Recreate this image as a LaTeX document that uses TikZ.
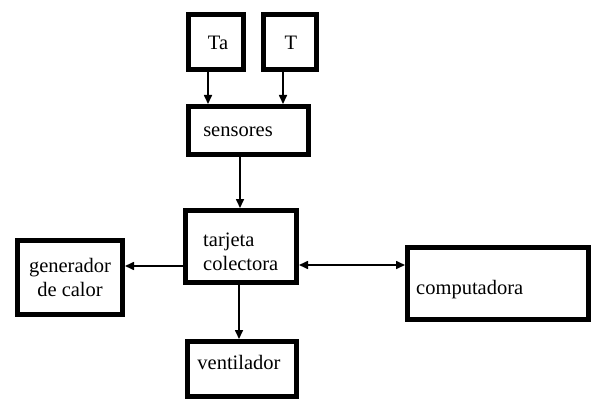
\documentclass[tikz,border=0pt]{standalone}
\usepackage{fontspec}
\setmainfont{Liberation Serif}
\usetikzlibrary{arrows.meta}
\begin{document}
\begin{tikzpicture}[x=1pt,y=-1pt,
  blk/.style={draw=black,line width=5pt,inner sep=0pt},
  lbl/.style={inner sep=0pt,font=\fontsize{20.5}{24}\selectfont,align=left},
  arr/.style={line width=1.6pt,-{Triangle[length=9pt,width=8pt]}},
  darr/.style={line width=1.6pt,{Triangle[length=9pt,width=8pt]}-{Triangle[length=9pt,width=8pt]}}]
\useasboundingbox (0,0) rectangle (593,401);
% boxes
\node[blk,minimum width=55pt,minimum height=55pt] (ta) at (216,42) {};
\node[blk,minimum width=53pt,minimum height=55pt] (t) at (290,42) {};
\node[blk,minimum width=120pt,minimum height=48pt] (sens) at (248.5,130.5) {};
\node[blk,minimum width=111pt,minimum height=72pt] (tar) at (241,246.5) {};
\node[blk,minimum width=105pt,minimum height=74pt] (gen) at (70,277.5) {};
\node[blk,minimum width=181pt,minimum height=72pt] (comp) at (498,283.5) {};
\node[blk,minimum width=109pt,minimum height=55pt] (vent) at (242,369) {};
% labels
\node[lbl] (tatx) at (218,43) {Ta};
\node[lbl] (ttx) at (291,43) {T};
\node[lbl] (senstx) at (238,132) {sensores};
\node[lbl,anchor=west] (tartx) at (203,252) {tarjeta\\colectora};
\node[lbl,align=center] (gentx) at (70,277) {generador\\de calor};
\node[lbl,anchor=west] (comptx) at (416,290) {computadora};
\node[lbl] (venttx) at (239,362) {ventilador};
% connectors
\draw[arr] (ta.south -| 208,0) -- (sens.north -| 208,0);
\draw[arr] (t.south -| 283,0) -- (sens.north -| 283,0);
\draw[arr] (sens.south -| 240,0) -- (tar.north -| 240,0);
\draw[arr] (tar.west |- 0,266) -- (gen.east |- 0,266);
\draw[darr] (tar.east |- 0,265) -- (comp.west |- 0,265);
\draw[arr] (tar.south -| 239,0) -- (vent.north -| 239,0);
\end{tikzpicture}
\end{document}
